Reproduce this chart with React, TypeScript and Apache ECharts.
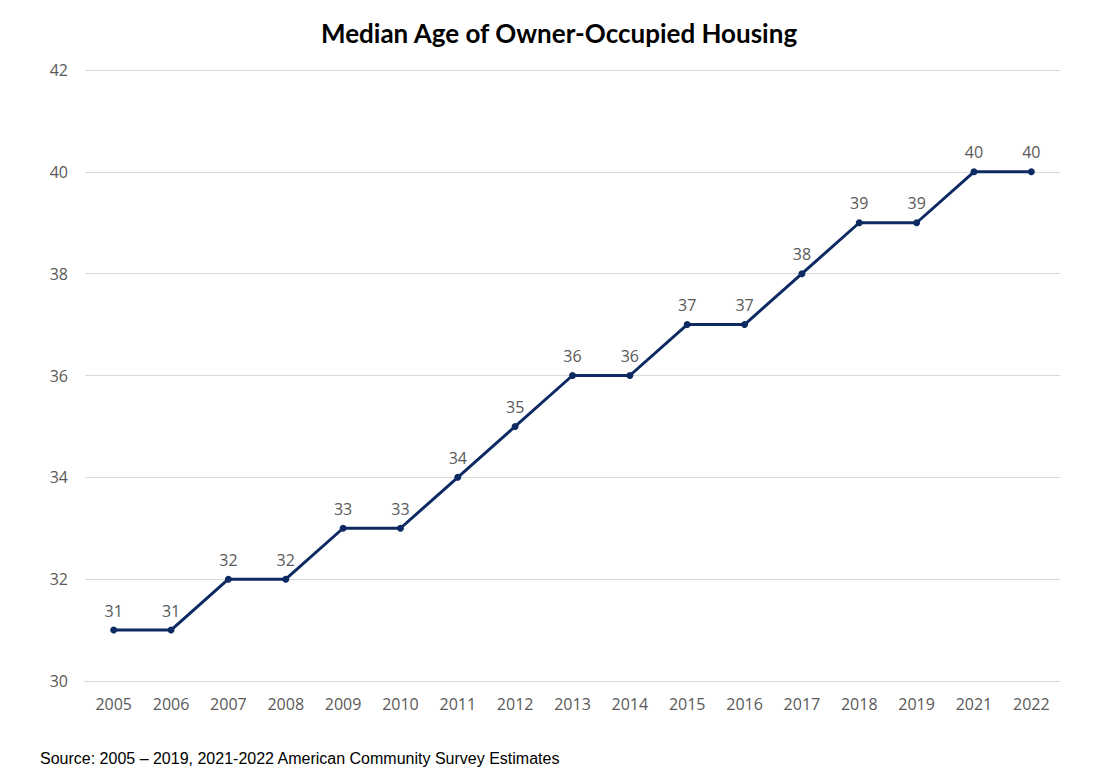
import React, { useEffect, useRef } from "react";
import * as echarts from "echarts";

const years = ["2005","2006","2007","2008","2009","2010","2011","2012","2013","2014","2015","2016","2017","2018","2019","2021","2022"];
const medianAge = [31,31,32,32,33,33,34,35,36,36,37,37,38,39,39,40,40];
const titleText = "Median Age of Owner-Occupied Housing";
const sourceText = "Source: 2005 \u2013 2019, 2021-2022 American Community Survey Estimates";

export default function App() {
  const ref = useRef<HTMLDivElement>(null);
  useEffect(() => {
    if (!ref.current) return;
    const chart = echarts.init(ref.current, undefined, { renderer: "svg" });
    chart.setOption({
      animation: false,
      backgroundColor: "#ffffff",
      title: {
        text: titleText,
        left: 316,
        top: 15,
        textStyle: { fontFamily: "Lato", fontWeight: "bold", fontSize: 26, color: "#000000" },
      },
      graphic: [
        {
          type: "text",
          left: 40,
          top: 750,
          style: { text: sourceText, fontFamily: "Liberation Sans", fontSize: 16, fill: "#000000" },
        },
      ],
      grid: { left: 85, right: 36, top: 70, bottom: 103, containLabel: false },
      xAxis: {
        type: "category",
        data: years,
        boundaryGap: true,
        axisLine: { show: true, lineStyle: { color: "#d9d9d9" } },
        axisTick: { show: false },
        axisLabel: { color: "#595959", fontFamily: "Open Sans", fontSize: 16, margin: 15 },
      },
      yAxis: {
        type: "value",
        min: 30,
        max: 42,
        interval: 2,
        axisLine: { show: false },
        axisTick: { show: false },
        splitLine: { lineStyle: { color: "#d9d9d9", width: 1 } },
        axisLabel: { color: "#595959", fontFamily: "Open Sans", fontSize: 16, margin: 17 },
      },
      series: [
        {
          type: "line",
          data: medianAge,
          symbol: "circle",
          symbolSize: 7,
          lineStyle: { color: "#0e2a63", width: 3 },
          itemStyle: { color: "#0e2a63" },
          label: {
            show: true,
            position: "top",
            distance: 8,
            color: "#595959",
            fontFamily: "Open Sans",
            fontSize: 16,
          },
        },
      ],
    });
    return () => chart.dispose();
  }, []);
  return <div ref={ref} style={{ width: 1096, height: 784, margin: -8 }} />;
}
